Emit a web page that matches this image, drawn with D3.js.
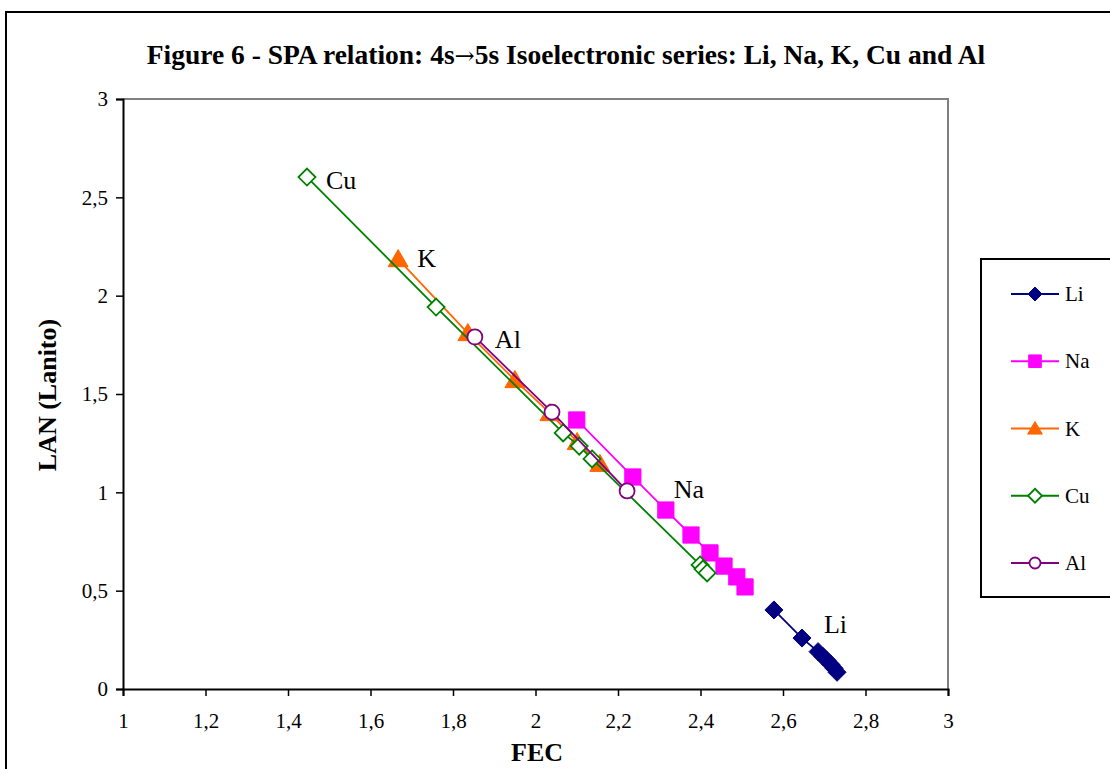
<!DOCTYPE html>
<html><head><meta charset="utf-8">
<script src="https://cdn.jsdelivr.net/npm/d3@7"></script>
<style>body{margin:0;background:#fff}text{font-family:"Liberation Serif","Times New Roman",serif}</style>
</head><body><svg id="c" width="1110" height="769"></svg>
<script>
const titleParts = ["Figure 6 - SPA relation: 4s", "\u2192", "5s Isoelectronic series: Li, Na, K, Cu and Al"];
const xTicks = [1,1.2,1.4,1.6,1.8,2,2.2,2.4,2.6,2.8,3];
const yTicks = [0,0.5,1,1.5,2,2.5,3];
const seriesNames = ["Li","Na","K","Cu","Al"];
const liX = [2.578,2.646,2.685,2.697,2.707,2.716,2.724,2.731];
const liY = [0.402,0.259,0.19,0.165,0.145,0.125,0.105,0.085];
const naX = [2.100,2.236,2.316,2.377,2.423,2.457,2.488,2.508];
const naY = [1.368,1.078,0.910,0.783,0.692,0.625,0.570,0.519];
const kX = [1.667,1.836,1.950,2.035,2.101,2.156];
const kY = [2.186,1.81,1.571,1.403,1.256,1.145];
const cuX = [1.446,1.759,2.067,2.106,2.137,2.399,2.406,2.416];
const cuY = [2.603,1.942,1.302,1.235,1.170,0.631,0.610,0.590];
const alX = [1.853,2.040,2.222];
const alY = [1.790,1.408,1.007];

const svg = d3.select("#c");
const x = d3.scaleLinear().domain([1,3]).range([123,948]);
const y = d3.scaleLinear().domain([0,3]).range([689,99]);
const fmt = d => String(d).replace(".", ",");

// outer frame
svg.append("rect").attr("x",6).attr("y",12).attr("width",1200).attr("height",800)
  .attr("fill","none").attr("stroke","#000").attr("stroke-width",2);

const tt = svg.append("text").attr("x",566).attr("y",64).attr("text-anchor","middle")
  .attr("font-weight","bold").attr("font-size",27.5);
tt.append("tspan").text(titleParts[0]);
tt.append("tspan").style("font-family","DejaVu Serif").style("font-weight","normal").attr("font-size",24).text(titleParts[1]);
tt.append("tspan").text(titleParts[2]);

// plot border (gray top/right)
svg.append("path").attr("d",`M${x(1)},${y(3)}H${x(3)}V${y(0)}`)
  .attr("fill","none").attr("stroke","#808080").attr("stroke-width",2);

const gx = svg.append("g").attr("transform",`translate(0,${y(0)})`)
  .call(d3.axisBottom(x).tickValues(xTicks).tickFormat(fmt).tickSize(7).tickPadding(17));
const gy = svg.append("g").attr("transform",`translate(${x(1)},0)`)
  .call(d3.axisLeft(y).tickValues(yTicks).tickFormat(fmt).tickSize(7).tickPadding(8));
[gx,gy].forEach(g=>{
  g.select(".domain").attr("stroke","#000").attr("stroke-width",2);
  g.selectAll(".tick line").attr("stroke","#000").attr("stroke-width",1.5);
  g.selectAll(".tick text").attr("font-size",21).attr("fill","#000");
});

svg.append("text").attr("x",537).attr("y",761).attr("text-anchor","middle")
  .attr("font-weight","bold").attr("font-size",26).text("FEC");
svg.append("text").attr("transform","translate(56,395) rotate(-90)").attr("text-anchor","middle")
  .attr("font-weight","bold").attr("font-size",26).text("LAN (Lanito)");

const series = [
  {name:"Li", xs:liX, ys:liY, color:"#000080", shape:"diamond", fill:true},
  {name:"Na", xs:naX, ys:naY, color:"#FF00FF", shape:"square", fill:true},
  {name:"K",  xs:kX,  ys:kY,  color:"#FF6600", shape:"triangle", fill:true},
  {name:"Cu", xs:cuX, ys:cuY, color:"#008000", shape:"diamond", fill:false},
  {name:"Al", xs:alX, ys:alY, color:"#800080", shape:"circle", fill:false}
];
function markerPath(shape, s){
  if(shape==="diamond") return `M0,${-s}L${s},0L0,${s}L${-s},0Z`;
  if(shape==="square") return `M${-s*0.9},${-s*0.9}H${s*0.9}V${s*0.9}H${-s*0.9}Z`;
  return `M0,${-s}L${s*1.05},${s*0.8}L${-s*1.05},${s*0.8}Z`;
}
function drawMarker(g, sr, s){
  if(sr.shape==="circle"){
    g.append("circle").attr("r",s).attr("fill",sr.fill?sr.color:"#fff").attr("stroke",sr.color).attr("stroke-width",1.8);
  } else {
    g.append("path").attr("d",markerPath(sr.shape,s))
      .attr("fill",sr.fill?sr.color:"#fff").attr("stroke",sr.color).attr("stroke-width",sr.fill?1:1.8);
  }
}
const line = d3.line();
series.forEach(sr=>{
  const pts = sr.xs.map((v,i)=>[x(v),y(sr.ys[i])]);
  svg.append("path").attr("d",line(pts)).attr("fill","none").attr("stroke",sr.color).attr("stroke-width",1.8);
  const sz = {diamond:sr.fill?9:8.5, square:9, triangle:9.5, circle:7.5}[sr.shape];
  pts.forEach(p=>{
    const g = svg.append("g").attr("transform",`translate(${p[0]},${p[1]})`);
    drawMarker(g, sr, sz);
  });
});

// point labels
const labelIdx = {Cu:0,K:0,Al:0,Na:2,Li:0};
const labelOff = {Cu:[19,12],K:[19,8],Al:[20,11],Na:[8,-12],Li:[50,23]};
seriesNames.forEach(n=>{
  const sr = series.find(s=>s.name===n);
  const i = labelIdx[n];
  const o = labelOff[n];
  svg.append("text").attr("x",x(sr.xs[i])+o[0]).attr("y",y(sr.ys[i])+o[1])
    .attr("font-size",26).text(n);
});

// legend
svg.append("rect").attr("x",981).attr("y",259).attr("width",200).attr("height",338)
  .attr("fill","#fff").attr("stroke","#000").attr("stroke-width",2);
const legY = d3.scalePoint().domain(seriesNames).range([294,563]);
series.forEach(sr=>{
  const cy = legY(sr.name);
  svg.append("line").attr("x1",1011).attr("x2",1059).attr("y1",cy).attr("y2",cy)
    .attr("stroke",sr.color).attr("stroke-width",1.8);
  const g = svg.append("g").attr("transform",`translate(1035,${cy})`);
  drawMarker(g, sr, sr.shape==="circle"?5.5:7);
  svg.append("text").attr("x",1065).attr("y",cy+7).attr("font-size",21).text(sr.name);
});
</script></body></html>
